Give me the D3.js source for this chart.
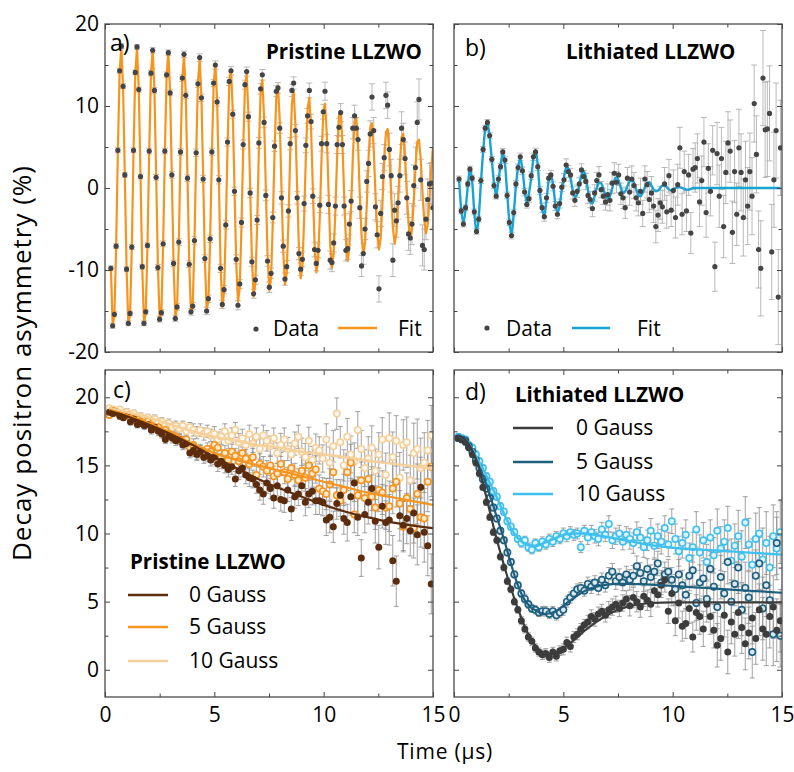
<!DOCTYPE html>
<html lang="en">
<head>
<meta charset="UTF-8">
<title>Decay positron asymmetry - LLZWO</title>
<script src="https://d3js.org/d3.v7.min.js"></script>
<style>
  body { margin: 0; background: #fff; }
  svg text { font-family: "Open Sans", sans-serif; fill: #000; }
</style>
</head>
<body>
<script>
// ---------------- data ----------------
// panel a: pristine, transverse field. binned data on a regular grid (µs)
const aT0 = 0.27, aDt = 0.0796;
const aFit = [
  -9.9,-16.7,-15.6,-7.3,4.5,14.1,17.2,12.2,1.5,
  -9.8,-16.6,-15.5,-7.3,4.4,14.0,17.1,12.1,1.5,
  -9.7,-16.4,-15.3,-7.2,4.4,13.9,16.9,12.0,1.5,
  -9.5,-16.1,-15.1,-7.0,4.3,13.6,16.6,11.8,1.4,
  -9.3,-15.7,-14.7,-6.9,4.2,13.3,16.2,11.5,1.4,
  -9.1,-15.3,-14.3,-6.7,4.1,12.9,15.7,11.2,1.4,
  -8.8,-14.8,-13.8,-6.5,4.0,12.5,15.2,10.8,1.3,
  -9.5,-14.5,-12.7,-5.0,5.0,12.7,14.5,9.5,0,
  -9.1,-13.9,-12.2,-4.8,4.8,12.2,13.9,9.1,0,
  -8.6,-13.2,-11.6,-4.6,4.6,11.6,13.2,8.6,0,
  -8.2,-12.5,-11.0,-4.3,4.3,11.0,12.5,8.2,0,
  -7.7,-11.8,-10.4,-4.1,4.1,10.4,11.8,7.7,0,
  -7.2,-11.0,-9.7,-3.8,3.8,9.7,11.0,7.2,0,
  -6.7,-10.3,-9.0,-3.6,3.6,9.0,10.3,6.7,0,
  -6.9,-9.7,-7.9,-2.5,4.1,8.8,9.4,5.6,-0.8,
  -6.3,-8.9,-7.3,-2.3,3.8,8.1,8.6,5.1,-0.8,
  -5.8,-8.2,-6.7,-2.1,3.5,7.4,7.9,4.7,-0.7,
  -5.3,-7.5,-6.1,-1.9,3.2,6.8,7.2,4.3,-0.7,
  -4.8,-6.8,-5.6,-1.8,2.9,6.2,6.6,3.9,-0.6,
  -4.3,-6.1,-5.0,-1.6,2.6,5.6,5.9,3.5,-0.5,
  -3.9,-5.5,-4.5,-1.4,2.3,5.0
];
const aData = [
  -9.8,-16.8,-15.4,-7.1,4.6,14.3,17.3,12.4,1.6,
  -9.9,-16.5,-15.3,-7.2,4.6,14.1,17.2,12.0,1.4,
  -9.6,-16.5,-15.1,-7.0,4.5,14.0,16.8,11.9,1.3,
  -9.7,-16.0,-15.2,-6.8,4.5,13.8,16.5,11.6,1.6,
  -9.2,-15.9,-14.5,-6.6,4.4,13.4,16.3,11.3,1.2,
  -9.3,-15.1,-14.4,-6.4,4.3,12.7,15.9,11.0,1.1,
  -8.6,-15.0,-13.5,-6.2,4.4,12.8,15.0,10.5,1.0,
  -9.8,-14.2,-12.4,-4.5,5.6,13.0,14.3,9.0,-0.4,
  -8.7,-14.3,-11.7,-4.2,5.3,12.6,14.2,8.7,-0.6,
  -9.0,-12.9,-11.2,-3.9,5.5,12.1,13.8,8.0,-0.9,
  -8.9,-12.1,-10.4,-3.6,5.1,11.8,12.2,7.3,-1.2,
  -7.1,-11.1,-9.6,-2.8,5.4,11.9,12.8,7.0,-1.2,
  -8.0,-9.9,-8.7,-1.9,5.2,8.8,11.9,8.1,-1.0,
  -7.5,-9.2,-7.6,-2.1,5.4,9.3,11.8,5.4,-2.0,
  -8.8,-9.1,-6.7,-2.2,5.3,7.4,9.2,5.3,-2.2,
  -7.6,-7.4,-4.4,-1.6,7.3,8.8,7.3,5.9,-2.4,
  -9.5,-8.0,-5.0,0.8,3.0,6.6,11.1,7.0,-2.3,
  -5.7,-12.3,-3.1,1.4,3.7,11.3,10.1,4.7,1.5,
  -8.8,-2.7,-4.0,-1.8,1.5,7.3,5.9,3.6,-1.2,
  -5.6,-6.1,-4.4,0.3,2.5,8.0,10.8,1.0,-7.0,
  -7.5,-3.8,-1.4,0.5,0.6,-2.4
];
// error bar half length per 1 µs bin
const aErr = [0.3,0.3,0.35,0.4,0.45,0.5,0.55,0.65,0.75,0.9,1.1,1.3,1.6,2.0,2.5];

// panel b: lithiated, transverse field
const bT0 = 0.23, bDt = 0.1;
const bFit = [
  1.1,-2.6,-4.2,-2.6,0.2,2.4,0.8,-3.0,-5.4,-3.6, 0.6,4.4,7.2,8.0,6.2,3.4,0.6,-0.9,0.8,2.8,
  4.2,3.0,-0.6,-4.0,-5.7,-3.2,0.2,2.5,3.6,2.3, -0.2,-1.8,-0.6,1.2,3.6,4.6,2.8,-0.6,-2.6,-3.3,
  -1.5,0.9,1.6,0.4,-1.8,-3.0,-2.2,-0.2,1.3,2.5, 2.4,1.2,-0.3,-1.1,-0.8,0.3,1.6,2.1,1.3,-0.3,
  -1.7,-1.9,-1.0,0.0,0.6,0.6,-0.1,-0.9,-1.3,-1.0, -0.1,0.9,1.3,0.9,0.0,-0.6,-0.4,0.2,0.8,1.0,
  0.6,-0.2,-0.8,-1.0,-0.6,0.1,0.6,0.7,0.3,-0.2, -0.4,-0.3,0.0,0.3,0.3,0.1,-0.2,-0.3,-0.2,0.0,
  0.1,0.1,0.0,-0.1,-0.2,-0.2,-0.1,0.0,
  0,0,0,0,0,0,0,0,0,0, 0,0,0,0,0,0,0,0,0,0, 0,0,0,0,0,0,0,0,0,0, 0,0,0,0,0,0,0,0,0,0
];
const bData = [
  1.1,-2.8,-4.4,-2.4,0.5,2.3,1.2,-2.9,-5.3,-3.8, 0.9,4.7,7.3,8.0,6.4,3.5,0.3,-1.0,1.1,2.6,
  4.4,3.4,-0.9,-4.2,-5.8,-3.0,0.5,2.5,3.8,2.1, -0.5,-2.0,-1.3,1.5,3.8,4.4,2.6,-0.3,-2.4,-3.5,
  -1.2,1.2,1.6,0.2,-2.2,-3.2,-1.9,0.1,1.0,2.8, 2.0,1.6,-0.6,-1.5,-0.4,0.5,2.2,1.4,0.8,-0.9,
  -1.4,-2.5,-0.6,0.9,1.6,-0.2,-1.0,-1.7,-0.8,-1.5, 0.6,1.8,0.7,1.6,-0.7,-1.2,-2.4,1.2,-0.5,1.1,
  0.3,-1.2,-1.8,-0.4,-3.1,1.1,0.4,-1.4,-0.6,-2.2, -4.7,-3.3,-1.8,-2.3,0.5,-2.9,1.5,-2.7,-0.3,-3.6,
  0.4,4.9,-3.2,2.0,-2.8,1.6,-5.5,2.3,
  2.5,3.6,-1.7,0.9,5.6,-3.0,2.4,-0.4,4.6,-9.6, 4.2,-1.0,3.6,-4.7,1.9,5.5,4.5,-5.4,2.0,-3.2,
  4.9,1.9,-3.6,1.0,-2.2,2.0,-1.0,10.3,4.1,-7.5, -9.8,13.4,7.1,7.2,9.1,-7.8,1.0,7.0,-13.3,4.9
];
const bErr = [0.35,0.35,0.4,0.45,0.55,0.75,1.0,1.3,1.6,2.0,2.5,3.0,3.8,4.7,5.8];

// panel c: pristine, 0 / 5 / 10 Gauss
const cT0 = 0.2, cDt = 0.16;
const cData0 = [
  18.9,18.8,18.9,18.6,18.5,18.7,18.2,18.4,18.0,18.1, 17.9,18.0,17.6,17.8,17.5,17.3,16.9,17.2,17.0,16.8,
  16.9,16.5,16.6,15.9,16.1,15.8,16.0,15.6,15.7,15.4, 15.6,15.1,15.3,15.0,14.7,14.9,14.0,14.6,14.8,14.3,
  14.1,14.0,13.6,13.2,12.9,13.7,13.3,12.6,13.5,12.5, 12.4,13.2,11.8,12.7,12.9,13.5,12.3,12.9,13.1,12.4,
  12.4,12.3,11.0,11.2,10.5,12.2,12.8,11.1,10.8,12.7, 13.7,11.2,8.2,11.4,12.3,13.3,10.9,9.0,12.0,10.8,
  11.0,8.0,6.5,11.3,10.6,11.1,10.2,11.5,9.9,13.4, 10.1,9.1,6.3
];
const cData5 = [
  18.7,19.0,18.9,18.8,18.6,18.7,18.5,18.3,18.4,18.2, 18.1,18.2,17.9,17.7,17.8,17.5,17.6,17.3,17.2,17.1,
  16.9,16.8,16.9,16.3,16.5,15.9,16.1,15.8,16.2,16.0, 16.5,16.3,15.6,15.9,15.4,16.0,15.7,15.3,15.9,15.5,
  15.1,15.6,14.3,15.1,14.9,14.6,15.0,14.2,14.4,15.1, 14.5,14.0,14.8,14.3,13.9,14.6,14.1,15.0,14.4,14.7,
  13.3,13.1,12.9,13.6,14.5,12.8,12.4,13.2,14.5,15.2, 11.4,12.8,13.9,12.6,14.0,12.7,11.9,13.2,13.0,11.9,
  12.0,13.3,13.8,12.2,10.5,12.6,11.8,10.4,12.9,11.2, 11.1,13.8,14.9
];
const cData10 = [
  19.2,19.1,19.0,19.1,18.8,18.9,18.7,18.8,18.5,18.6, 18.4,18.5,18.3,18.4,18.1,18.2,17.9,18.1,17.8,17.9,
  17.7,17.9,17.5,17.8,17.6,17.4,17.6,17.3,17.5,17.2, 17.3,16.9,17.1,17.5,16.8,17.2,17.6,16.7,17.0,16.5,
  17.3,16.6,17.1,16.2,17.2,16.8,16.4,17.0,15.9,16.5, 16.9,16.2,15.8,16.6,17.1,16.0,15.6,16.8,15.4,16.3,
  16.1,15.5,16.9,15.2,16.4,18.8,16.7,15.0,17.1,15.8, 15.3,17.6,16.2,14.8,15.5,16.3,14.6,15.8,16.9,14.3,
  17.0,15.6,16.8,14.1,16.5,16.7,13.9,15.9,16.2,14.8, 15.2,16.1,17.2
];
const cErr = [0.2,0.25,0.3,0.35,0.45,0.55,0.65,0.75,0.85,1.0,1.15,1.35,1.6,1.85,2.2];
const cFitT = [0.2,1,2,3,4,5,6,7,8,9,10,11,12,13,14,15];
const cFit0 = [19.0,18.6,18.0,17.3,16.5,15.6,14.8,14.0,13.3,12.7,12.1,11.6,11.2,10.85,10.6,10.4];
const cFit5 = [19.1,18.7,18.1,17.4,16.6,15.9,15.4,15.0,14.6,14.2,13.8,13.4,13.0,12.7,12.4,12.1];
const cFit10 = [19.2,18.9,18.5,18.0,17.5,17.1,16.8,16.5,16.3,16.0,15.8,15.6,15.35,15.15,14.95,14.75];

// panel d: lithiated, 0 / 5 / 10 Gauss
const dT0 = 0.2, dDt = 0.16;
const dData0 = [
  17.0,16.9,16.7,16.3,15.8,15.2,14.4,13.4,12.3,11.2, 10.1,9.5,8.3,7.5,6.5,5.9,5.0,4.4,3.6,3.0,
  2.4,2.1,1.6,1.3,1.1,1.2,0.9,1.3,1.0,1.4, 1.5,2.0,1.7,2.4,2.6,3.0,3.3,3.5,3.9,3.7,
  4.1,4.3,4.0,4.4,4.6,4.8,4.5,4.9,5.2,4.7, 5.3,5.0,4.6,5.4,5.1,4.8,5.8,5.5,6.2,6.6,
  4.3,5.6,3.6,4.9,3.2,3.4,4.5,2.4,4.2,3.9, 3.0,4.8,3.9,2.9,1.8,2.3,4.0,1.3,3.5,2.6,
  4.2,3.1,1.9,2.7,3.8,2.3,4.4,3.0,2.6,3.9, 4.6,2.9,3.6
];
const dData5 = [
  17.0,16.9,16.8,16.4,16.0,15.4,14.8,14.0,13.3,12.6, 11.9,11.1,10.2,9.5,8.6,7.9,7.0,6.2,5.6,5.2,
  4.8,4.5,4.4,4.2,4.3,4.3,4.1,4.3,4.0,4.2, 4.4,5.0,5.3,5.6,5.9,6.0,5.8,6.3,6.1,6.4,
  6.0,6.6,6.2,6.9,7.2,6.5,6.8,6.4,7.0,6.6, 6.9,7.6,7.1,6.5,7.4,6.8,7.2,7.8,6.4,7.0,
  7.2,6.6,5.9,7.0,6.2,5.5,6.9,7.3,4.9,6.4, 6.7,5.2,7.4,6.1,4.6,6.8,5.6,7.9,5.0,6.3,
  7.5,4.4,6.0,5.3,1.3,6.9,7.8,4.5,6.2,5.1, 2.6,9.3,2.5
];
const dData10 = [
  17.1,17.0,16.9,16.5,16.3,15.8,15.3,14.8,14.2,13.8, 13.1,12.7,12.0,11.6,10.9,10.5,10.1,9.6,9.3,9.5,
  9.0,8.8,9.3,9.0,9.4,9.2,9.6,9.4,9.8,9.6, 10.0,9.8,10.1,9.9,10.0,9.0,10.2,9.7,10.1,9.8,
  9.6,10.3,9.9,10.7,9.5,9.8,10.0,9.4,9.9,9.6, 9.3,10.1,9.7,9.0,9.5,10.2,9.1,9.8,9.4,10.4,
  9.2,10.9,9.6,8.7,9.3,9.9,8.2,9.0,10.3,8.6, 9.5,7.9,9.7,8.4,10.2,8.9,9.4,10.4,8.0,9.1,
  9.8,8.3,10.8,9.2,7.7,9.6,10.0,8.1,9.3,7.5, 9.8,8.9,10.1
];
const dErr = [0.2,0.25,0.25,0.3,0.35,0.4,0.5,0.6,0.75,0.9,1.1,1.3,1.6,1.9,2.3];
const dFitT = [0.2,0.5,0.8,1.1,1.4,1.7,2.0,2.3,2.6,2.9,3.2,3.5,3.8,4.1,4.4,4.7,5.0,5.5,6.0,6.5,7.0,7.5,8.0,9,10,11,12,13,14,15];
const dFit0 = [17.2,16.9,16.2,15.0,13.2,11.2,9.3,7.6,6.0,4.6,3.3,2.3,1.6,1.25,1.15,1.3,1.6,2.2,2.9,3.5,4.0,4.4,4.65,4.9,4.95,4.95,4.95,4.95,4.95,4.95];
const dFit5 = [17.2,16.9,16.2,15.1,13.9,12.5,11.0,9.5,7.8,6.3,5.2,4.6,4.3,4.1,4.15,4.35,4.7,5.3,5.8,6.1,6.25,6.3,6.3,6.25,6.15,6.05,5.95,5.85,5.75,5.65];
const dFit10 = [17.2,16.9,16.3,15.4,14.5,13.5,12.5,11.4,10.4,9.7,9.3,9.1,9.1,9.3,9.5,9.7,9.9,10.0,10.0,9.9,9.75,9.6,9.45,9.15,8.95,8.85,8.75,8.65,8.55,8.45];

// ---------------- drawing ----------------
const svg = d3.select("body").append("svg").attr("width", 794).attr("height", 772);

const FONT = "Open Sans, sans-serif";
let clipN = 0;

// build panel frame + inward ticks on four sides
function panel(box, yDom, yMajor, yMinor, showY, showX) {
  const x = d3.scaleLinear().domain([0, 15]).range([box.l, box.r]);
  const y = d3.scaleLinear().domain(yDom).range([box.b, box.t]);
  const g = svg.append("g");
  const id = "clip" + (clipN++);
  g.append("clipPath").attr("id", id).append("rect")
    .attr("x", box.l).attr("y", box.t).attr("width", box.r - box.l).attr("height", box.b - box.t);
  const plot = g.append("g").attr("clip-path", `url(#${id})`);
  const axes = g.append("g");

  const xMajor = [0, 5, 10, 15], xMinor = [2.5, 7.5, 12.5];
  const put = (gen, tx, ty, vals, len, pad, labels) => {
    const a = axes.append("g").attr("transform", `translate(${tx},${ty})`)
      .call(gen.tickValues(vals).tickSize(-len).tickPadding(pad)
        .tickFormat(labels ? (d => String(d)) : () => ""));
    a.select(".domain").remove();
    a.attr("font-family", FONT).attr("font-size", 21).attr("color", "#444");
    a.selectAll("text").style("fill", "#000");
  };
  put(d3.axisBottom(x), 0, box.b, xMajor, 5, 10, showX);
  put(d3.axisBottom(x), 0, box.b, xMinor, 3.5, 0, false);
  put(d3.axisTop(x), 0, box.t, xMajor, 5, 0, false);
  put(d3.axisTop(x), 0, box.t, xMinor, 3.5, 0, false);
  put(d3.axisLeft(y), box.l, 0, yMajor, 5, 6, showY);
  put(d3.axisLeft(y), box.l, 0, yMinor, 3.5, 0, false);
  put(d3.axisRight(y), box.r, 0, yMajor, 5, 0, false);
  put(d3.axisRight(y), box.r, 0, yMinor, 3.5, 0, false);

  axes.append("rect").attr("x", box.l).attr("y", box.t)
    .attr("width", box.r - box.l).attr("height", box.b - box.t)
    .attr("fill", "none").attr("stroke", "#4a4a4a").attr("stroke-width", 1.3);
  return { x, y, plot, g };
}

function points(vals, t0, dt, errs) {
  return vals.map((v, i) => {
    const t = t0 + i * dt;
    return { t, v, e: errs[Math.min(errs.length - 1, Math.floor(t))] };
  });
}

function errBars(P, pts, color, cap) {
  P.plot.append("g").attr("stroke", color).attr("stroke-width", 0.8).attr("fill", "none")
    .selectAll("path").data(pts).join("path")
    .attr("d", d => {
      const xx = P.x(d.t), ya = P.y(d.v + d.e), yb = P.y(d.v - d.e);
      return `M${xx},${ya}V${yb}M${xx - cap},${ya}H${xx + cap}M${xx - cap},${yb}H${xx + cap}`;
    });
}

function dots(P, pts, r, fill, stroke, sw) {
  P.plot.append("g").selectAll("circle").data(pts).join("circle")
    .attr("cx", d => P.x(d.t)).attr("cy", d => P.y(d.v)).attr("r", r)
    .attr("fill", fill).attr("stroke", stroke || "none").attr("stroke-width", sw || 0);
}

function curve(P, pts, color, w, c) {
  P.plot.append("path").datum(pts)
    .attr("d", d3.line().x(d => P.x(d.t)).y(d => P.y(d.v)).curve(c || d3.curveLinear))
    .attr("fill", "none").attr("stroke", color).attr("stroke-width", w)
    .attr("stroke-linejoin", "round");
}

function label(txt, x, y, size, weight, anchor) {
  svg.append("text").attr("x", x).attr("y", y).attr("font-size", size)
    .attr("font-weight", weight || "normal").attr("text-anchor", anchor || "start").text(txt);
}

function legLine(x1, x2, y, color, w) {
  svg.append("line").attr("x1", x1).attr("x2", x2).attr("y1", y).attr("y2", y)
    .attr("stroke", color).attr("stroke-width", w);
}

const ORANGE = "#f7941d", BLUE = "#17a3d4", DOT = "#454545", ERR = "#a8a8a8";
const BROWN = "#5c2c0d", PEACH = "#f5d09a", DGRAY = "#3c3c3c", TEAL = "#1d5f7e", CYAN = "#3fc1f0";

const pairs = (ts, vs) => vs.map((v, i) => ({ t: ts[i], v }));

// ---- panel a
const A = panel({ l: 105, r: 433, t: 24, b: 352 }, [-20, 20], [-20, -10, 0, 10, 20], [-15, -5, 5, 15], true, false);
const aPts = points(aData, aT0, aDt, aErr);
errBars(A, aPts, ERR, 3);
curve(A, points(aFit, aT0, aDt, aErr), ORANGE, 2.2);
dots(A, aPts, 2.6, DOT);

// ---- panel b
const B = panel({ l: 454, r: 782, t: 24, b: 352 }, [-20, 20], [-20, -10, 0, 10, 20], [-15, -5, 5, 15], false, false);
const bPts = points(bData, bT0, bDt, bErr);
errBars(B, bPts, ERR, 3);
curve(B, points(bFit, bT0, bDt, bErr), BLUE, 2.4, d3.curveMonotoneX);
dots(B, bPts, 2.6, DOT);

// ---- panel c
const C = panel({ l: 105, r: 433, t: 370, b: 697 }, [-2, 22], [0, 5, 10, 15, 20], [2.5, 7.5, 12.5, 17.5], true, true);
const c0 = points(cData0, cT0, cDt, cErr), c5 = points(cData5, cT0, cDt, cErr), c10 = points(cData10, cT0, cDt, cErr);
[c10, c5, c0].forEach(s => errBars(C, s, "#8a8a8a", 2.5));
dots(C, c10, 3.2, "#fffaf1", PEACH, 1.6);
dots(C, c5, 3.2, "#fde8cc", ORANGE, 1.6);
dots(C, c0, 3.5, BROWN);
curve(C, pairs(cFitT, cFit10), PEACH, 2.6, d3.curveMonotoneX);
curve(C, pairs(cFitT, cFit5), ORANGE, 2.2, d3.curveMonotoneX);
curve(C, pairs(cFitT, cFit0), BROWN, 2.2, d3.curveMonotoneX);

// ---- panel d
const D = panel({ l: 454, r: 782, t: 370, b: 697 }, [-2, 22], [0, 5, 10, 15, 20], [2.5, 7.5, 12.5, 17.5], false, true);
const d0 = points(dData0, dT0, dDt, dErr), d5 = points(dData5, dT0, dDt, dErr), d10 = points(dData10, dT0, dDt, dErr);
[d10, d5, d0].forEach(s => errBars(D, s, "#8a8a8a", 2.5));
dots(D, d10, 3.2, "#e2f4fc", CYAN, 1.6);
dots(D, d5, 3.2, "#dbe8ee", TEAL, 1.6);
dots(D, d0, 3.5, DGRAY);
curve(D, pairs(dFitT, dFit10), CYAN, 2.4, d3.curveMonotoneX);
curve(D, pairs(dFitT, dFit5), TEAL, 2.2, d3.curveMonotoneX);
curve(D, pairs(dFitT, dFit0), DGRAY, 2.2, d3.curveMonotoneX);

// ---- panel letters, titles, legends
label("a)", 110, 51, 23);
label("b)", 465, 56, 23);
label("c)", 113, 398, 23);
label("d)", 465, 400, 23);
label("Pristine LLZWO", 266, 59, 20.5, "bold");
label("Lithiated LLZWO", 566, 59, 20.5, "bold");

svg.append("circle").attr("cx", 256).attr("cy", 329).attr("r", 2.6).attr("fill", DOT);
label("Data", 273, 336, 21);
legLine(338, 377, 328, ORANGE, 2.4);
label("Fit", 398, 336, 21);

svg.append("circle").attr("cx", 487).attr("cy", 328).attr("r", 2.6).attr("fill", DOT);
label("Data", 506, 336, 21);
legLine(572, 610, 328, BLUE, 2.4);
label("Fit", 637, 336, 21);

label("Pristine LLZWO", 130, 569, 20.5, "bold");
[["0 Gauss", BROWN, 595], ["5 Gauss", ORANGE, 627], ["10 Gauss", PEACH, 661]].forEach(([t, c, yy]) => {
  legLine(128, 168, yy, c, 2.6);
  label(t, 189, yy + 7, 21);
});

label("Lithiated LLZWO", 515, 402, 20.5, "bold");
[["0 Gauss", DGRAY, 428], ["5 Gauss", TEAL, 462], ["10 Gauss", CYAN, 494]].forEach(([t, c, yy]) => {
  legLine(513, 553, yy, c, 2.6);
  label(t, 576, yy + 7, 21);
});

// ---- axis titles
svg.append("text").attr("transform", "translate(31,363) rotate(-90)")
  .attr("text-anchor", "middle").attr("font-size", 26).style("letter-spacing", "1px")
  .text("Decay positron asymmetry (%)");
svg.append("text").attr("x", 445).attr("y", 759).attr("text-anchor", "middle")
  .attr("font-size", 21).style("letter-spacing", "0.8px").text("Time (µs)");
</script>
</body>
</html>
